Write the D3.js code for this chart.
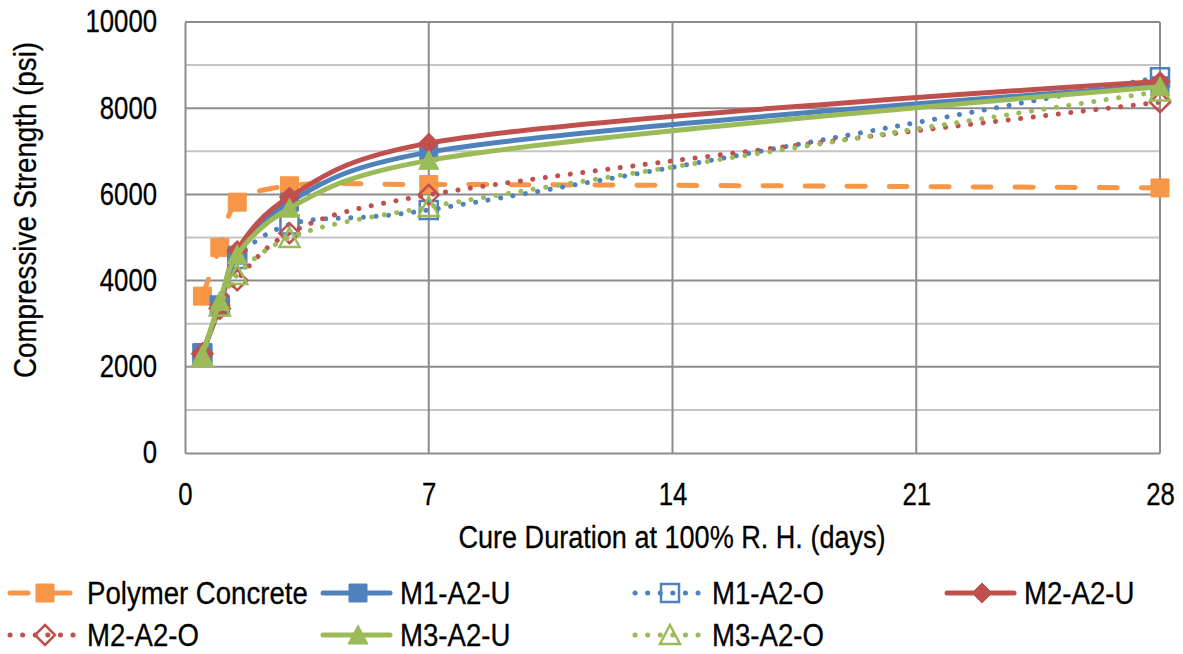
<!DOCTYPE html>
<html>
<head>
<meta charset="utf-8">
<script src="https://cdn.jsdelivr.net/npm/d3@7"></script>
<style>
    body { margin: 0; background: #fff; }
    text { font-family: "Liberation Sans", Arial, sans-serif; fill: #000; stroke: #000; stroke-width: 0.3px; }
</style>
</head>
<body>
<div id="chart"></div>
<script>
// cure durations (days)
let days = [0.5, 1, 1.5, 3, 7, 28];

// compressive strength (psi)
let polymerConcrete = [3640, 4770, 5820, 6200, 6230, 6150];
let m1a2u = [2330, 3390, 4590, 5820, 6980, 8520];
let m1a2o = [2300, 3420, 4500, 5300, 5640, 8720];
let m2a2u = [2330, 3420, 4700, 5940, 7190, 8620];
let m2a2o = [2300, 3350, 4010, 5100, 5990, 8140];
let m3a2u = [2260, 3520, 4600, 5680, 6790, 8500];
let m3a2o = [2230, 3400, 4130, 4990, 5710, 8390];

let seriesNames = ["Polymer Concrete", "M1-A2-U", "M1-A2-O", "M2-A2-U", "M2-A2-O", "M3-A2-U", "M3-A2-O"];
let xTicks = [0, 7, 14, 21, 28];
let yTicks = [0, 2000, 4000, 6000, 8000, 10000];

let styles = {
    "Polymer Concrete": {color: "#F79646", line: "dash", marker: "square", open: false},
    "M1-A2-U": {color: "#4F81BD", line: "solid", marker: "square", open: false},
    "M1-A2-O": {color: "#4F81BD", line: "dot", marker: "square", open: true},
    "M2-A2-U": {color: "#C0504D", line: "solid", marker: "diamond", open: false},
    "M2-A2-O": {color: "#C0504D", line: "dot", marker: "diamond", open: true},
    "M3-A2-U": {color: "#9BBB59", line: "solid", marker: "triangle", open: false},
    "M3-A2-O": {color: "#9BBB59", line: "dot", marker: "triangle", open: true}
};

let values = [polymerConcrete, m1a2u, m1a2o, m2a2u, m2a2o, m3a2u, m3a2o];
let series = seriesNames.map((name, i) => ({
    name: name,
    points: days.map((d, j) => ({x: d, y: values[i][j]}))
}));

let width = 1183, height = 654;
let plot = {left: 185, right: 1160, top: 22, bottom: 453};
let fontSize = 31;

let svg = d3.select("#chart").append("svg")
    .attr("width", width)
    .attr("height", height);

// the original font is a narrow one, squeeze the glyphs to match
function narrow(sel, factor) {
    sel.each(function() {
        let len = this.getComputedTextLength();
        d3.select(this)
            .attr("textLength", len * factor)
            .attr("lengthAdjust", "spacingAndGlyphs");
    });
}

let x = d3.scaleLinear().domain([0, 28]).range([plot.left, plot.right]);
let y = d3.scaleLinear().domain([0, 10000]).range([plot.bottom, plot.top]);

// gridlines: light every 1000, darker every 2000
svg.append("g").selectAll("line.minor")
    .data(d3.range(1000, 10000, 2000))
    .enter().append("line")
    .attr("class", "minor")
    .attr("x1", plot.left).attr("x2", plot.right)
    .attr("y1", d => y(d)).attr("y2", d => y(d))
    .attr("stroke", "#c4c4c4").attr("stroke-width", 2);

svg.append("g").selectAll("line.major")
    .data(yTicks.slice(1))
    .enter().append("line")
    .attr("class", "major")
    .attr("x1", plot.left).attr("x2", plot.right)
    .attr("y1", d => y(d)).attr("y2", d => y(d))
    .attr("stroke", "#8c8c8c").attr("stroke-width", 2);

svg.append("g").selectAll("line.vgrid")
    .data(xTicks.slice(1))
    .enter().append("line")
    .attr("class", "vgrid")
    .attr("x1", d => x(d)).attr("x2", d => x(d))
    .attr("y1", plot.top).attr("y2", plot.bottom)
    .attr("stroke", "#8c8c8c").attr("stroke-width", 2);

// axes
let yAxis = svg.append("g")
    .attr("transform", `translate(${plot.left},0)`)
    .call(d3.axisLeft(y).tickValues(yTicks).tickSize(0).tickPadding(28).tickFormat(d3.format("d")));
let xAxis = svg.append("g")
    .attr("transform", `translate(0,${plot.bottom})`)
    .call(d3.axisBottom(x).tickValues(xTicks).tickSize(0).tickPadding(30));

[yAxis, xAxis].forEach(a => {
    a.select(".domain").attr("stroke", "#8c8c8c").attr("stroke-width", 2);
    a.selectAll("text")
        .style("font-size", fontSize + "px")
        .style("font-family", '"Liberation Sans", Arial, sans-serif')
        .call(narrow, 0.83);
});

// axis titles
svg.append("text")
    .attr("transform", `translate(36, 210) rotate(-90)`)
    .attr("text-anchor", "middle")
    .style("font-size", fontSize + "px")
    .text("Compressive Strength (psi)")
    .call(narrow, 0.895);

svg.append("text")
    .attr("x", 672).attr("y", 548)
    .attr("text-anchor", "middle")
    .style("font-size", fontSize + "px")
    .text("Cure Duration at 100% R. H. (days)")
    .call(narrow, 0.873);

let dashes = {solid: null, dash: "18,24", dot: "0.1,12.5"};

function applyLine(sel, st) {
    sel.attr("fill", "none")
        .attr("stroke", st.color)
        .attr("stroke-width", 5)
        .attr("stroke-linecap", "round")
        .attr("stroke-linejoin", "round")
        .attr("stroke-dasharray", dashes[st.line]);
}

function markerPath(type) {
    if (type === "square") return "M-9,-9H9V9H-9Z";
    if (type === "diamond") return "M0,-10L10,0L0,10L-10,0Z";
    return "M0,-10L10,9H-10Z";
}

function applyMarker(sel, st) {
    sel.attr("d", markerPath(st.marker))
        .attr("fill", st.open ? "none" : st.color)
        .attr("stroke", st.color)
        .attr("stroke-width", st.open ? 2.5 : 1);
}

let line = d3.line()
    .x(d => x(d.x))
    .y(d => y(d.y))
    .curve(d3.curveCatmullRom.alpha(0.3));

series.forEach(s => {
    let st = styles[s.name];
    let g = svg.append("g").attr("class", "series");
    applyLine(g.append("path").attr("d", line(s.points)), st);
    g.selectAll("path.marker")
        .data(s.points)
        .enter().append("path")
        .attr("class", "marker")
        .attr("transform", d => `translate(${x(d.x)},${y(d.y)})`)
        .call(applyMarker, st);
});

// legend
let legendCols = [10, 323, 635, 947];
let legendRows = [593, 635];
let legend = svg.append("g").attr("class", "legend");

seriesNames.forEach((name, i) => {
    let st = styles[name];
    let lx = legendCols[i % 4], ly = legendRows[Math.floor(i / 4)];
    let item = legend.append("g").attr("transform", `translate(${lx},${ly})`);
    applyLine(item.append("line").attr("x1", 0).attr("x2", 67).attr("y1", 0).attr("y2", 0), st);
    item.append("path").attr("transform", "translate(35,0)").call(applyMarker, st);
    item.append("text")
        .attr("x", 77).attr("y", 0).attr("dy", "0.36em")
        .style("font-size", fontSize + "px")
        .text(name)
        .call(narrow, 0.89);
});
</script>
</body>
</html>
